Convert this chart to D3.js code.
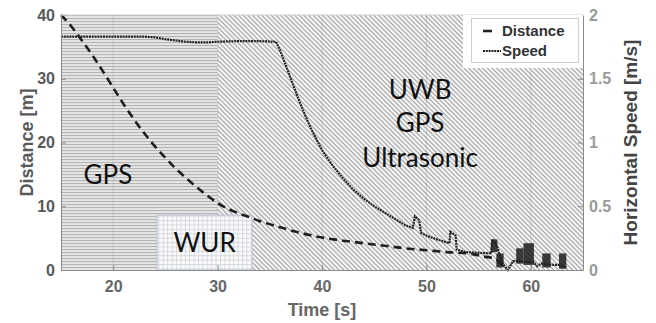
<!DOCTYPE html>
<html>
<head>
<meta charset="utf-8">
<script src="https://cdn.jsdelivr.net/npm/d3@7"></script>
<style>
  body { margin: 0; background: #fff; }
  svg text { font-family: "Liberation Sans", Arial, sans-serif; }
</style>
</head>
<body>
<div id="chart"></div>
<script>
// Distance series (left axis)
const distTime = [15, 16, 17, 18, 19, 20, 21, 22, 23, 24, 25, 26, 27, 28, 29, 30, 31, 32, 33, 34, 36, 38, 40, 42, 44, 46, 48, 50, 52, 54, 55.5, 56.5, 57, 57.5];
const distance = [40, 38.2, 36, 33.7, 31.2, 28.6, 26, 23.6, 21.4, 19.4, 17.6, 15.9, 14.4, 13, 11.7, 10.5, 9.6, 8.9, 8.3, 7.7, 6.7, 5.8, 5.1, 4.6, 4.2, 3.8, 3.4, 3.1, 2.8, 2.6, 2.1, 1.8, 1.2, 0];

// Speed series (right axis)
const speedTime = [15, 17, 19, 21, 23, 24, 25, 26, 27, 28, 29, 30, 32, 34, 35.6, 36, 36.6, 37.2, 37.8, 38.4, 39, 40, 41, 42, 43, 44, 45, 46, 47, 48, 48.7, 48.9, 49.3, 49.5, 50, 51, 52.2, 52.3, 52.8, 52.9, 53.8, 55, 56.2, 56.3, 56.7, 57.3, 57.8, 58.3, 58.8, 60.3, 60.6, 61, 62, 62.7, 63.4];
const speed = [1.83, 1.83, 1.83, 1.83, 1.83, 1.825, 1.81, 1.8, 1.79, 1.785, 1.785, 1.79, 1.795, 1.795, 1.79, 1.72, 1.59, 1.46, 1.33, 1.21, 1.1, 0.94, 0.82, 0.72, 0.63, 0.56, 0.5, 0.45, 0.4, 0.35, 0.33, 0.42, 0.39, 0.29, 0.27, 0.24, 0.21, 0.3, 0.27, 0.16, 0.14, 0.135, 0.13, 0.24, 0.2, 0.05, 0, 0.07, 0.07, 0.06, 0.03, 0.05, 0.04, 0.04, 0.02];

// Dense speed oscillation near landing, drawn as filled bands
const burstStart = [56.2, 56.7, 58.6, 59.3, 61.1, 62.7];
const burstEnd   = [56.8, 57.4, 59.3, 60.3, 61.9, 63.4];
const burstLow   = [0.14, 0.02, 0.05, 0.04, 0.02, 0.01];
const burstHigh  = [0.24, 0.13, 0.17, 0.21, 0.13, 0.13];

// Sensor regions
const regionNames = ["GPS", "UWB"];
const regionStart = [15, 30];
const regionEnd = [30, 65];
const wurRange = [24.2, 33.3];
const wurTop = 8.6;

const xTicks = [20, 30, 40, 50, 60];
const distTicks = [0, 10, 20, 30, 40];
const speedTicks = [0, 0.5, 1, 1.5, 2];

const width = 656;
const height = 323;
const margin = { top: 15, right: 73, bottom: 53, left: 61 };

const svg = d3.select("#chart")
  .append("svg")
  .attr("width", width)
  .attr("height", height);

const x = d3.scaleLinear().domain([15, 65]).range([margin.left, width - margin.right]);
const yL = d3.scaleLinear().domain([0, 40]).range([height - margin.bottom, margin.top]);
const yR = d3.scaleLinear().domain([0, 2]).range([height - margin.bottom, margin.top]);

// Patterns for the background regions
const defs = svg.append("defs");

const ph = defs.append("pattern")
  .attr("id", "horiz")
  .attr("patternUnits", "userSpaceOnUse")
  .attr("width", 6).attr("height", 3);
ph.append("rect").attr("width", 6).attr("height", 3).attr("fill", "#e6e6e6");
ph.append("rect").attr("y", 0).attr("width", 6).attr("height", 1.1).attr("fill", "#b4b4b4");

const pd = defs.append("pattern")
  .attr("id", "diag")
  .attr("patternUnits", "userSpaceOnUse")
  .attr("width", 3.3).attr("height", 3.3)
  .attr("patternTransform", "rotate(45)");
pd.append("rect").attr("width", 3.3).attr("height", 3.3).attr("fill", "#f7f7f7");
pd.append("rect").attr("width", 3.3).attr("height", 1.1).attr("fill", "#9e9e9e");

const pg = defs.append("pattern")
  .attr("id", "grid")
  .attr("patternUnits", "userSpaceOnUse")
  .attr("width", 4.4).attr("height", 4.4);
pg.append("rect").attr("width", 4.4).attr("height", 4.4).attr("fill", "#fbfbfb");
pg.append("path").attr("d", "M0,0.5H4.4M0.5,0V4.4").attr("stroke", "#d6d9de").attr("stroke-width", 1);

// Regions
svg.append("g")
  .selectAll("rect")
  .data(regionNames)
  .join("rect")
  .attr("x", (d, i) => x(regionStart[i]))
  .attr("y", yL(40))
  .attr("width", (d, i) => x(regionEnd[i]) - x(regionStart[i]))
  .attr("height", yL(0) - yL(40))
  .attr("fill", (d, i) => i === 0 ? "url(#horiz)" : "url(#diag)");

// faint vertical grid
svg.append("g")
  .selectAll("line")
  .data(xTicks)
  .join("line")
  .attr("x1", d => x(d)).attr("x2", d => x(d))
  .attr("y1", yL(40)).attr("y2", yL(0))
  .attr("stroke", "#9a9a9a")
  .attr("stroke-opacity", 0.35)
  .attr("stroke-width", 1);

// WUR box
svg.append("rect")
  .attr("x", x(wurRange[0]))
  .attr("y", yL(wurTop))
  .attr("width", x(wurRange[1]) - x(wurRange[0]))
  .attr("height", yL(0) - yL(wurTop))
  .attr("fill", "url(#grid)")
  .attr("stroke", "#b9c3d0")
  .attr("stroke-width", 1);

// Region labels
const labelFont = "Lato, 'Open Sans', sans-serif";
svg.append("text")
  .attr("x", x(19.5)).attr("y", yL(13.5))
  .attr("text-anchor", "middle")
  .style("font-family", labelFont).style("font-size", "26px")
  .attr("fill", "#111")
  .text("GPS");

svg.append("text")
  .attr("x", x((wurRange[0] + wurRange[1]) / 2)).attr("y", yL(2.85))
  .attr("text-anchor", "middle")
  .style("font-family", labelFont).style("font-size", "26px")
  .attr("fill", "#111")
  .text("WUR");

const uwbLines = ["UWB", "GPS", "Ultrasonic"];
const uwbBase = [26.8, 21.6, 16.2];
svg.append("g")
  .selectAll("text")
  .data(uwbLines)
  .join("text")
  .attr("x", x(49.4))
  .attr("y", (d, i) => yL(uwbBase[i]))
  .attr("text-anchor", "middle")
  .style("font-family", labelFont).style("font-size", "26px")
  .attr("fill", "#111")
  .text(d => d);

// Bursts
svg.append("g")
  .selectAll("rect")
  .data(burstStart)
  .join("rect")
  .attr("x", (d, i) => x(d))
  .attr("y", (d, i) => yR(burstHigh[i]))
  .attr("width", (d, i) => x(burstEnd[i]) - x(d))
  .attr("height", (d, i) => yR(burstLow[i]) - yR(burstHigh[i]))
  .attr("fill", "#1c1c1c")
  .attr("fill-opacity", 0.85);

// Distance line
svg.append("path")
  .datum(distTime)
  .attr("fill", "none")
  .attr("stroke", "#1f1f1f")
  .attr("stroke-width", 2.6)
  .attr("stroke-dasharray", "8,5")
  .attr("d", d3.line().x(d => x(d)).y((d, i) => yL(distance[i])).curve(d3.curveMonotoneX));

// Speed line
svg.append("path")
  .datum(speedTime)
  .attr("fill", "none")
  .attr("stroke", "#222")
  .attr("stroke-width", 2.2)
  .attr("stroke-dasharray", "2,0.8")
  .attr("d", d3.line().x(d => x(d)).y((d, i) => yR(speed[i])));

// Axes
const axisColor = "#8a8a8a";
const gx = svg.append("g")
  .attr("transform", `translate(0,${height - margin.bottom})`)
  .call(d3.axisBottom(x).tickValues(xTicks).tickSizeInner(-5).tickSizeOuter(0).tickPadding(11));
const gl = svg.append("g")
  .attr("transform", `translate(${margin.left},0)`)
  .call(d3.axisLeft(yL).tickValues(distTicks).tickSizeInner(-5).tickSizeOuter(0).tickPadding(6));
const gr = svg.append("g")
  .attr("transform", `translate(${width - margin.right},0)`)
  .call(d3.axisRight(yR).tickValues(speedTicks).tickFormat(d3.format("")).tickSizeInner(-5).tickSizeOuter(0).tickPadding(6));

[gx, gl, gr].forEach(g => {
  g.select(".domain").attr("stroke", axisColor);
  g.selectAll(".tick line").attr("stroke", axisColor);
  g.selectAll("text").style("font-size", "16px").style("font-weight", "bold");
});
gx.selectAll("text").attr("fill", "#666");
gl.selectAll("text").attr("fill", "#595959");
gr.selectAll("text").attr("fill", "#9a9a9a");

// top edge
svg.append("line")
  .attr("x1", x(15)).attr("x2", x(65))
  .attr("y1", yL(40)).attr("y2", yL(40))
  .attr("stroke", "#cfcfcf");

// Axis titles
svg.append("text")
  .attr("x", (margin.left + width - margin.right) / 2)
  .attr("y", 316)
  .attr("text-anchor", "middle")
  .style("font-size", "18px").style("font-weight", "bold")
  .attr("fill", "#666")
  .text("Time [s]");

svg.append("text")
  .attr("transform", `translate(33,${(margin.top + height - margin.bottom) / 2}) rotate(-90)`)
  .attr("text-anchor", "middle")
  .style("font-size", "18px").style("font-weight", "bold")
  .attr("fill", "#595959")
  .text("Distance [m]");

svg.append("text")
  .attr("transform", `translate(637,${(margin.top + height - margin.bottom) / 2}) rotate(-90)`)
  .attr("text-anchor", "middle")
  .style("font-size", "19px").style("font-weight", "bold")
  .attr("fill", "#444")
  .text("Horizontal Speed [m/s]");

// Legend
const legend = svg.append("g");
legend.append("rect")
  .attr("x", 463).attr("y", margin.top)
  .attr("width", width - margin.right - 463).attr("height", 53)
  .attr("fill", "#fff");
legend.append("rect")
  .attr("x", 471.5).attr("y", 18.5)
  .attr("width", 107).attr("height", 44)
  .attr("fill", "#fff")
  .attr("stroke", "#cfcfcf");

const legendNames = ["Distance", "Speed"];
const legendDash = ["9,30", "2,0.8"];
const legendWidth = [2.6, 2.2];
legend.selectAll("line")
  .data(legendNames)
  .join("line")
  .attr("x1", 483).attr("x2", 501)
  .attr("y1", (d, i) => 31 + i * 20).attr("y2", (d, i) => 31 + i * 20)
  .attr("stroke", "#222")
  .attr("stroke-width", (d, i) => legendWidth[i])
  .attr("stroke-dasharray", (d, i) => legendDash[i]);
legend.selectAll("text")
  .data(legendNames)
  .join("text")
  .attr("x", 502)
  .attr("y", (d, i) => 36 + i * 20)
  .style("font-size", "15px").style("font-weight", "bold")
  .attr("fill", "#333")
  .text(d => d);
</script>
</body>
</html>
